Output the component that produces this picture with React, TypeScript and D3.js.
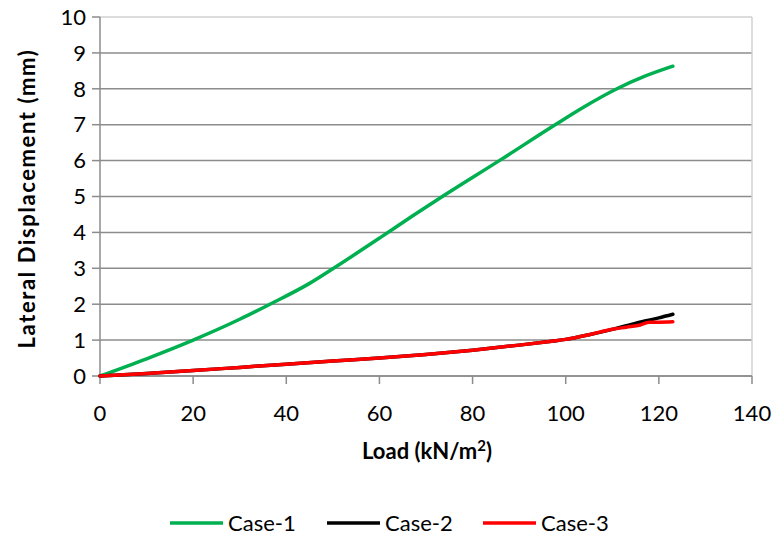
import React from 'react';
import * as d3 from 'd3';

type Pt = [number, number];

const xTicks = [0, 20, 40, 60, 80, 100, 120, 140];
const yTicks = [0, 1, 2, 3, 4, 5, 6, 7, 8, 9, 10];

const case1: Pt[] = [
  [0, 0], [10, 0.48], [20, 1.0], [30, 1.58], [36.5, 2.0], [45, 2.58], [50.5, 3.03],
  [60, 3.84], [67, 4.45], [74, 5.04], [86, 6.02], [98, 7.02], [104, 7.5],
  [111, 8.0], [117, 8.35], [123, 8.63],
];
const case2: Pt[] = [
  [0, 0], [10, 0.07], [20, 0.15], [30, 0.24], [40, 0.33], [50, 0.42], [60, 0.5],
  [70, 0.6], [80, 0.72], [90, 0.86], [97, 0.97], [100, 1.02], [105, 1.15],
  [110, 1.3], [113, 1.4], [117, 1.53], [120, 1.62], [123, 1.72],
];
const case3: Pt[] = [
  [0, 0], [10, 0.07], [20, 0.15], [30, 0.24], [40, 0.33], [50, 0.42], [60, 0.5],
  [70, 0.6], [80, 0.72], [90, 0.86], [97, 0.97], [100, 1.02], [105, 1.15],
  [110, 1.3], [113, 1.36], [116, 1.42], [118, 1.5], [120, 1.5], [123, 1.51],
];

const series = [
  { name: 'Case-1', data: case1, color: '#00b050' },
  { name: 'Case-2', data: case2, color: '#000000' },
  { name: 'Case-3', data: case3, color: '#ff0000' },
];

const W = 775, H = 538;
const m = { left: 100, right: 23, top: 17, bottom: 162 };
const font = 'Lato, "Open Sans", sans-serif';

export default function App() {
  const x = d3.scaleLinear().domain([0, 140]).range([m.left, W - m.right]);
  const y = d3.scaleLinear().domain([0, 10]).range([H - m.bottom, m.top]);
  const line = d3.line<Pt>().x(d => x(d[0])).y(d => y(d[1])).curve(d3.curveMonotoneX);
  const legX = [170, 327, 483];

  return (
    <svg width={W} height={H} style={{ position: 'absolute', left: 0, top: 0, background: '#fff' }}>
      {yTicks.map(t => (
        <line key={'g' + t} x1={x(0)} x2={x(140)} y1={y(t)} y2={y(t)}
          stroke={t === 10 ? '#d0d0d0' : '#8c8c8c'} strokeWidth={1.5} />
      ))}
      <line x1={x(140)} x2={x(140)} y1={y(10)} y2={y(0)} stroke="#d0d0d0" strokeWidth={1.5} />
      <line x1={x(0)} x2={x(0)} y1={y(10)} y2={y(0)} stroke="#8c8c8c" strokeWidth={1.5} />
      <line x1={x(0)} x2={x(140)} y1={y(0)} y2={y(0)} stroke="#8c8c8c" strokeWidth={1.5} />
      {yTicks.map(t => (
        <g key={'y' + t}>
          <line x1={x(0) - 8} x2={x(0)} y1={y(t)} y2={y(t)} stroke="#8c8c8c" strokeWidth={1.5} />
          <text x={x(0) - 14} y={y(t)} dy="0.35em" textAnchor="end" fontFamily={font} fontSize={22}>{t}</text>
        </g>
      ))}
      {xTicks.map(t => (
        <g key={'x' + t}>
          <line x1={x(t)} x2={x(t)} y1={y(0)} y2={y(0) + 8} stroke="#8c8c8c" strokeWidth={1.5} />
          <text x={x(t)} y={413} dy="0.35em" textAnchor="middle" fontFamily={font} fontSize={22}>{t}</text>
        </g>
      ))}
      {series.map(s => (
        <path key={s.name} d={line(s.data) || ''} fill="none" stroke={s.color}
          strokeWidth={3.5} strokeLinecap="round" strokeLinejoin="round" />
      ))}
      <text x={427} y={451} dy="0.35em" textAnchor="middle" fontFamily={font} fontSize={22} fontWeight="bold">
        Load (kN/m<tspan dy="-8" fontSize={15}>2</tspan><tspan dy="8">)</tspan>
      </text>
      <text transform={`translate(27,${(y(0) + y(10)) / 2 + 2}) rotate(-90)`} dy="0.35em" textAnchor="middle"
        fontFamily={font} fontSize={22} fontWeight="bold" letterSpacing={1.6}>Lateral Displacement (mm)</text>
      {series.map((s, i) => (
        <g key={'l' + s.name}>
          <line x1={legX[i]} x2={legX[i] + 53} y1={523} y2={523} stroke={s.color} strokeWidth={3.5} />
          <text x={legX[i] + 58} y={523} dy="0.35em" fontFamily={font} fontSize={22}>{s.name}</text>
        </g>
      ))}
    </svg>
  );
}
